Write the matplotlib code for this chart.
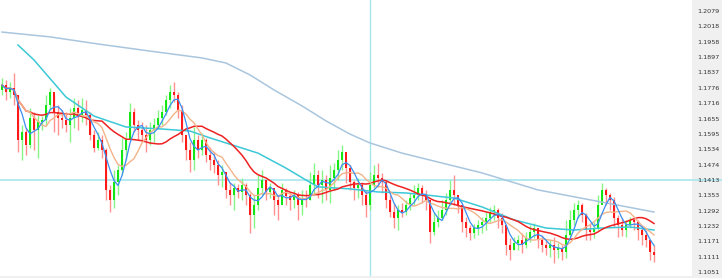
import numpy as np
import pandas as pd
import matplotlib
matplotlib.use("Agg")
import matplotlib.pyplot as plt

# candle data (open of each bar = close of the previous bar)
first_open = 1.1768
closes = [
    1.1787, 1.1760, 1.1776, 1.1748, 1.1571, 1.1602, 1.1551, 1.1657, 1.1610, 1.1642,
    1.1650, 1.1709, 1.1760, 1.1681, 1.1657, 1.1650, 1.1630, 1.1657, 1.1697, 1.1669,
    1.1689, 1.1669, 1.1590, 1.1539, 1.1571, 1.1531, 1.1374, 1.1334, 1.1405, 1.1453,
    1.1531, 1.1571, 1.1681, 1.1630, 1.1610, 1.1590, 1.1571, 1.1610, 1.1630, 1.1657,
    1.1681, 1.1728, 1.1760, 1.1748, 1.1689, 1.1590, 1.1531, 1.1492, 1.1571, 1.1531,
    1.1571, 1.1512, 1.1492, 1.1472, 1.1433, 1.1445, 1.1374, 1.1354, 1.1382, 1.1366,
    1.1393, 1.1354, 1.1275, 1.1315, 1.1382, 1.1413, 1.1366, 1.1382, 1.1334, 1.1315,
    1.1374, 1.1350, 1.1334, 1.1354, 1.1315, 1.1342, 1.1334, 1.1393, 1.1433, 1.1393,
    1.1413, 1.1374, 1.1421, 1.1453, 1.1492, 1.1523, 1.1460, 1.1405, 1.1382, 1.1393,
    1.1354, 1.1315, 1.1393, 1.1433, 1.1421, 1.1405, 1.1334, 1.1287, 1.1263, 1.1295,
    1.1287, 1.1315, 1.1342, 1.1354, 1.1382, 1.1354, 1.1334, 1.1208, 1.1248, 1.1263,
    1.1295, 1.1334, 1.1374, 1.1354, 1.1315, 1.1248, 1.1224, 1.1204, 1.1224, 1.1236,
    1.1248, 1.1263, 1.1287, 1.1295, 1.1263, 1.1236, 1.1157, 1.1137, 1.1165, 1.1177,
    1.1157, 1.1185, 1.1208, 1.1224, 1.1177, 1.1157, 1.1145, 1.1157, 1.1137, 1.1145,
    1.1129, 1.1196, 1.1256, 1.1295, 1.1315, 1.1275, 1.1216, 1.1208, 1.1224, 1.1315,
    1.1374, 1.1354, 1.1334, 1.1263, 1.1236, 1.1216, 1.1236, 1.1256, 1.1248, 1.1216,
    1.1196, 1.1177, 1.1129, 1.1118,
]
highs = [
    1.1815, 1.1807, 1.1799, 1.1835, 1.1748, 1.1630, 1.1618, 1.1697, 1.1681, 1.1669,
    1.1665, 1.1748, 1.1776, 1.1748, 1.1709, 1.1689, 1.1681, 1.1697, 1.1736, 1.1728,
    1.1736, 1.1728, 1.1681, 1.1610, 1.1602, 1.1590, 1.1539, 1.1393, 1.1453, 1.1472,
    1.1579, 1.1602, 1.1716, 1.1697, 1.1650, 1.1642, 1.1630, 1.1642, 1.1657, 1.1689,
    1.1709, 1.1748, 1.1787, 1.1799, 1.1760, 1.1709, 1.1571, 1.1563, 1.1622, 1.1590,
    1.1598, 1.1579, 1.1543, 1.1523, 1.1492, 1.1472, 1.1421, 1.1405, 1.1401, 1.1397,
    1.1421, 1.1401, 1.1362, 1.1354, 1.1433, 1.1453, 1.1413, 1.1401, 1.1374, 1.1354,
    1.1401, 1.1382, 1.1362, 1.1374, 1.1366, 1.1374, 1.1374, 1.1445, 1.1480, 1.1453,
    1.1453, 1.1433, 1.1472, 1.1480, 1.1531, 1.1551, 1.1492, 1.1472, 1.1413, 1.1421,
    1.1405, 1.1374, 1.1445, 1.1472, 1.1480, 1.1441, 1.1413, 1.1354, 1.1322, 1.1315,
    1.1322, 1.1334, 1.1362, 1.1393, 1.1401, 1.1393, 1.1374, 1.1295, 1.1287, 1.1295,
    1.1334, 1.1362, 1.1413, 1.1433, 1.1346, 1.1315, 1.1267, 1.1236, 1.1240, 1.1256,
    1.1267, 1.1287, 1.1307, 1.1315, 1.1303, 1.1283, 1.1224, 1.1185, 1.1189, 1.1196,
    1.1204, 1.1208, 1.1236, 1.1244, 1.1216, 1.1196, 1.1177, 1.1177, 1.1189, 1.1165,
    1.1157, 1.1256, 1.1295, 1.1322, 1.1334, 1.1322, 1.1283, 1.1244, 1.1248, 1.1354,
    1.1401, 1.1382, 1.1362, 1.1346, 1.1275, 1.1263, 1.1256, 1.1267, 1.1267, 1.1256,
    1.1228, 1.1216, 1.1177, 1.1157,
]
lows = [
    1.1748, 1.1728, 1.1736, 1.1709, 1.1523, 1.1492, 1.1512, 1.1539, 1.1531, 1.1500,
    1.1610, 1.1630, 1.1689, 1.1602, 1.1590, 1.1618, 1.1602, 1.1563, 1.1618, 1.1610,
    1.1642, 1.1630, 1.1571, 1.1523, 1.1531, 1.1500, 1.1334, 1.1287, 1.1303, 1.1354,
    1.1433, 1.1492, 1.1571, 1.1602, 1.1571, 1.1563, 1.1523, 1.1551, 1.1563, 1.1618,
    1.1630, 1.1669, 1.1697, 1.1720, 1.1657, 1.1563, 1.1492, 1.1445, 1.1453, 1.1500,
    1.1512, 1.1484, 1.1453, 1.1441, 1.1393, 1.1386, 1.1342, 1.1315, 1.1295, 1.1342,
    1.1334, 1.1315, 1.1204, 1.1224, 1.1295, 1.1354, 1.1334, 1.1342, 1.1275, 1.1256,
    1.1334, 1.1315, 1.1295, 1.1303, 1.1256, 1.1275, 1.1307, 1.1334, 1.1354, 1.1342,
    1.1322, 1.1334, 1.1322, 1.1374, 1.1413, 1.1453, 1.1401, 1.1374, 1.1334, 1.1342,
    1.1315, 1.1267, 1.1295, 1.1382, 1.1386, 1.1362, 1.1303, 1.1267, 1.1224, 1.1216,
    1.1267, 1.1275, 1.1295, 1.1315, 1.1334, 1.1322, 1.1295, 1.1165, 1.1196, 1.1228,
    1.1256, 1.1275, 1.1315, 1.1315, 1.1283, 1.1208, 1.1189, 1.1177, 1.1185, 1.1196,
    1.1204, 1.1216, 1.1248, 1.1256, 1.1224, 1.1204, 1.1118, 1.1098, 1.1137, 1.1137,
    1.1125, 1.1145, 1.1169, 1.1185, 1.1145, 1.1129, 1.1118, 1.1110, 1.1086, 1.1106,
    1.1098, 1.1106, 1.1189, 1.1236, 1.1263, 1.1248, 1.1177, 1.1177, 1.1185, 1.1216,
    1.1322, 1.1315, 1.1295, 1.1228, 1.1189, 1.1192, 1.1189, 1.1224, 1.1216, 1.1177,
    1.1157, 1.1149, 1.1098, 1.1090,
]

# long moving averages (history before the visible bars is not shown)
ma_mid_bar = [4, 8, 16, 23, 31, 40, 47, 52, 60, 64, 71, 76, 79, 87, 94, 101, 106, 113, 120, 128, 136, 143, 150, 157, 163]
ma_mid = [1.1945, 1.1886, 1.1740, 1.1665, 1.1622, 1.1614, 1.1606, 1.1579, 1.1539, 1.1519, 1.1460, 1.1413, 1.1386,
          1.1378, 1.1366, 1.1362, 1.1354, 1.1342, 1.1307, 1.1256, 1.1224, 1.1216, 1.1224, 1.1228, 1.1216]
ma_slow_bar = [0, 12, 24, 37, 50, 56, 62, 68, 75, 81, 87, 92, 100, 110, 120, 134, 150, 163]
ma_slow = [1.1996, 1.1977, 1.1949, 1.1921, 1.1894, 1.1874, 1.1827, 1.1768, 1.1705, 1.1646, 1.1594, 1.1559,
           1.1519, 1.1480, 1.1441, 1.1374, 1.1326, 1.1287]

price_ticks = [1.2079, 1.2018, 1.1958, 1.1897, 1.1837, 1.1776, 1.1716, 1.1655, 1.1595, 1.1534,
               1.1474, 1.1413, 1.1353, 1.1292, 1.1232, 1.1171, 1.1111, 1.1051]
level = 1.1413
cursor_bar = 92

n = len(closes)
bars = np.arange(n)
c = np.array(closes)
o = np.array([first_open] + closes[:-1])
h = np.array(highs)
l = np.array(lows)
up = c >= o

s = pd.Series(c)
ma_fast = s.rolling(4, min_periods=1).mean()
ma_8 = s.rolling(8, min_periods=1).mean()
ma_19 = s.rolling(19, min_periods=1).mean()

fig = plt.figure(figsize=(7.22, 2.78), dpi=100, facecolor="#f0f0f0")
ax = fig.add_axes([0, 2 / 278, 692 / 722, 276 / 278])
ax.set_facecolor("white")

ax.vlines(bars[up], l[up], h[up], color="#86f586", lw=1.0, zorder=2)
ax.vlines(bars[~up], l[~up], h[~up], color="#ff9090", lw=1.0, zorder=2)
ax.bar(bars[up], c[up] - o[up], bottom=o[up], width=0.7, color="#14e614", lw=0, zorder=3)
ax.bar(bars[~up], c[~up] - o[~up], bottom=o[~up], width=0.7, color="#ff1a1a", lw=0, zorder=3)

ax.plot(ma_slow_bar, ma_slow, color="#a9c6de", lw=1.1, zorder=4)
ax.plot(ma_mid_bar, ma_mid, color="#3cc8d6", lw=1.1, zorder=4)
ax.plot(bars, ma_19, color="#ee2222", lw=1.1, zorder=5)
ax.plot(bars, ma_8, color="#f2b48a", lw=1.0, zorder=5)
ax.plot(bars, ma_fast, color="#3a8ff0", lw=0.9, zorder=6)

ax.axhline(level, xmin=0, xmax=722 / 692, color="#a8e6ee", lw=1.2, clip_on=False, zorder=1)
ax.axvline(cursor_bar, color="#a8e6ee", lw=1.0, zorder=1)

ax.set_xlim(-0.5, 172.5)
ax.set_ylim(1.10349, 1.21223)
ax.set_xticks([])
ax.yaxis.tick_right()
ax.set_yticks(price_ticks)
ax.set_yticklabels([f"{t:.4f}" for t in price_ticks])
ax.tick_params(axis="y", length=0, pad=3.5, labelsize=4.6, labelcolor="#333333")
for sp in ax.spines.values():
    sp.set_visible(False)

fig.savefig("out.png", dpi=100, facecolor=fig.get_facecolor())
